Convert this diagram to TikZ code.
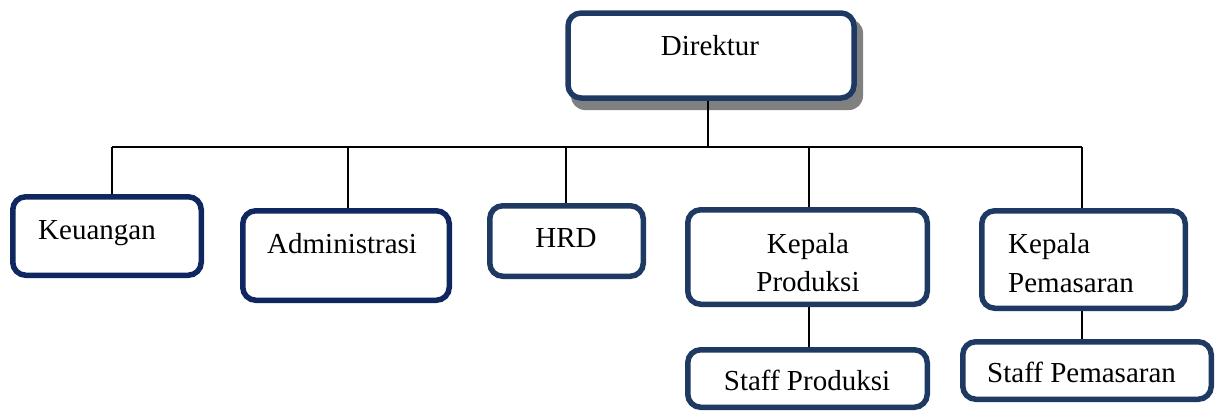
\documentclass[tikz,border=0pt]{standalone}
\usepackage{fontspec}
\setmainfont{Liberation Serif}
\usetikzlibrary{backgrounds}
\definecolor{navyA}{RGB}{16,38,96}
\definecolor{navyB}{RGB}{30,58,98}
\definecolor{shadowgray}{RGB}{128,128,128}
\tikzset{
  x=1pt, y=-1pt,
  box/.style={draw=navyB, line width=5.5pt, rounded corners=13pt, fill=white, inner sep=0pt},
  boxA/.style={box, draw=navyA},
  txt/.style={font=\fontsize{29}{37}\selectfont, inner sep=0pt, anchor=base},
  txtw/.style={txt, anchor=base west},
  conn/.style={draw=black, line width=1.5pt}
}
\begin{document}
\begin{tikzpicture}
\useasboundingbox (0,0) rectangle (1217,410);
% boxes
\node[box, minimum width=286pt, minimum height=85pt] (dir) at (711,55.5) {};
\node[boxA, minimum width=188.5pt, minimum height=78.5pt] (keu) at (107,236) {};
\node[boxA, minimum width=206.5pt, minimum height=89.5pt] (adm) at (346,255.5) {};
\node[box, minimum width=153.5pt, minimum height=70.5pt] (hrd) at (566.5,241) {};
\node[box, minimum width=239.5pt, minimum height=94.5pt] (kp) at (807.5,257) {};
\node[box, minimum width=239.5pt, minimum height=57.5pt] (sp) at (807.5,378.5) {};
\node[box, minimum width=203.5pt, minimum height=97.5pt] (km) at (1083.5,259.5) {};
\node[box, minimum width=248.5pt, minimum height=57.5pt] (sm) at (1087,370.5) {};
% texts
\node[txt] (tdir) at (710,55) {Direktur};
\node[txtw] (tkeu) at (38,239) {Keuangan};
\node[txtw] (tadm) at (267,253) {Administrasi};
\node[txt] (thrd) at (566,247) {HRD};
\node[txt] (tkp1) at (808,253) {Kepala};
\node[txt] (tkp2) at (808,291) {Produksi};
\node[txt] (tsp) at (807,390) {Staff Produksi};
\node[txtw] (tkm1) at (1008,253) {Kepala};
\node[txtw] (tkm2) at (1008,292) {Pemasaran};
\node[txtw] (tsm) at (987,382) {Staff Pemasaran};
% bus coordinates
\coordinate (bd) at (708,147);
\coordinate (b1) at (112,147);
\coordinate (b2) at (348,147);
\coordinate (b3) at (566,147);
\coordinate (b4) at (809,147);
\coordinate (b5) at (1082,147);
\begin{scope}[on background layer]
% shadow of Direktur
\fill[shadowgray, rounded corners=14pt] (571,19) rectangle (863,110);
\draw[conn] (dir.south -| bd) -- (bd);
\draw[conn] (b1) -- (b5);
\draw[conn] (b1) -- (b1 |- keu.north);
\draw[conn] (b2) -- (b2 |- adm.north);
\draw[conn] (b3) -- (b3 |- hrd.north);
\draw[conn] (b4) -- (b4 |- kp.north);
\draw[conn] (b5) -- (b5 |- km.north);
\draw[conn] (kp.south -| b4) -- (sp.north -| b4);
\draw[conn] (km.south -| b5) -- (sm.north -| b5);
\end{scope}
\end{tikzpicture}
\end{document}
